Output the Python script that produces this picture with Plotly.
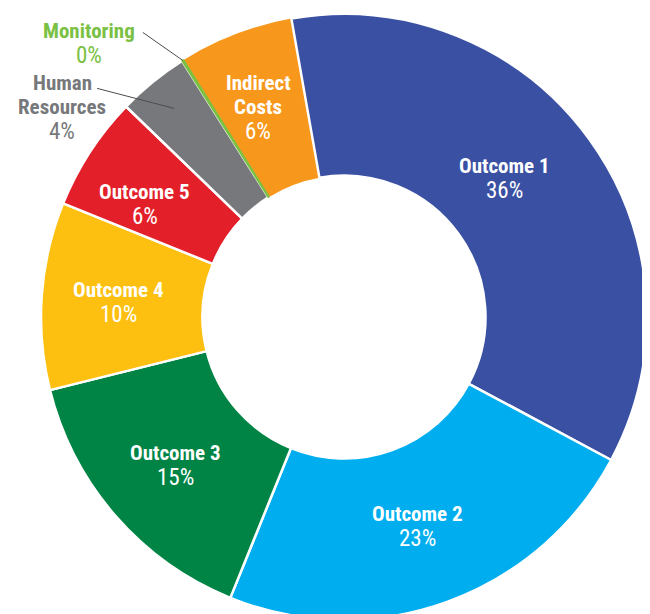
import math
import plotly.graph_objects as go

# ---------------- data ----------------
categories = ["Indirect Costs", "Outcome 1", "Outcome 2", "Outcome 3",
              "Outcome 4", "Outcome 5", "Human Resources", "Monitoring"]
values = [6.1, 35.6, 23.3, 15.0, 10.0, 6.1, 3.8, 0.1]
display_names = ["Indirect<br>Costs", "Outcome 1", "Outcome 2", "Outcome 3",
                 "Outcome 4", "Outcome 5", "Human<br>Resources", "Monitoring"]

# ---------------- style ----------------
slice_colors = ["#F7981D", "#3A50A3", "#00AEEF", "#008445",
                "#FDC010", "#E31F2A", "#77787B", "#7AC143"]
line_colors = ["white"] * 7 + ["#7AC143"]
line_widths = [0, 2.5, 2.5, 2.5, 2.5, 2.5, 2.5, 1.5]
outside = {"Human Resources": "#77787B", "Monitoring": "#7AC143"}

W, H = 650, 614
PAGE_OFFSET = 8                    # default body margin of the written page
CX, CY, R = 344 - PAGE_OFFSET, 317 - PAGE_OFFSET, 303   # pie centre / radius in figure px
HOLE = 0.467
FIRST_MAIN_START = -10             # where Outcome 1 begins (deg, clockwise from top)
FONT = "Liberation Sans Narrow, Roboto Condensed, Arial Narrow, Roboto, sans-serif"
NAME_SIZE, PCT_SIZE, LINE_GAP = 21, 23, 24.5

total = sum(values)
rotation = FIRST_MAIN_START - values[0] / total * 360

# per-label nudges (px, y down) and outside-label geometry
inside_shift = {"Indirect Costs": (-6, -2), "Outcome 1": (-19, -8), "Outcome 2": (-2, 0),
                "Outcome 3": (-1, 3), "Outcome 4": (-4, 1), "Outcome 5": (-13, 8)}
outside_geom = {  # anchor radius fraction, label offset, leader start offset
    "Monitoring": (1.0, (-94, -17), (-40, -28)),
    "Human Resources": (0.888, (-112, -1), (-77, -20)),
}


def px2paper(x, y):
    return x / W, 1 - y / H


fig = go.Figure(go.Pie(
    labels=categories, values=values, sort=False, direction="clockwise",
    rotation=rotation, hole=HOLE, textinfo="none", hoverinfo="skip",
    marker=dict(colors=slice_colors, line=dict(color=line_colors, width=line_widths)),
    domain=dict(x=[(CX - R) / W, (CX + R) / W], y=[1 - (CY + R) / H, 1 - (CY - R) / H]),
    showlegend=False,
))

annotations, shapes = [], []


def add_block(cx, cy, name, pct, color):
    lines = [(part, True) for part in name.split("<br>")] + [(pct, False)]
    n = len(lines)
    for i, (txt, bold) in enumerate(lines):
        ly = cy + (i - (n - 1) / 2) * LINE_GAP
        px_, py_ = px2paper(cx, ly)
        annotations.append(dict(
            x=px_, y=py_, xref="paper", yref="paper",
            text=f"<b>{txt}</b>" if bold else txt,
            showarrow=False, xanchor="center", yanchor="middle",
            font=dict(family=FONT, size=NAME_SIZE if bold else PCT_SIZE, color=color)))


cum = 0.0
r_mid = R * (1 + HOLE) / 2
for cat, name, v in zip(categories, display_names, values):
    mid = math.radians(rotation + (cum + v / 2) / total * 360)
    cum += v
    pct = f"{round(v / total * 100)}%"
    if cat in outside:
        frac, lab_off, start_off = outside_geom[cat]
        ax_ = CX + R * frac * math.sin(mid)
        ay_ = CY - R * frac * math.cos(mid)
        x0, y0 = px2paper(ax_ + start_off[0], ay_ + start_off[1])
        x1, y1 = px2paper(ax_, ay_)
        shapes.append(dict(type="line", xref="paper", yref="paper", x0=x0, y0=y0, x1=x1, y1=y1,
                           line=dict(color="#4D4D4D", width=1)))
        add_block(ax_ + lab_off[0], ay_ + lab_off[1], name, pct, outside[cat])
    else:
        dx, dy = inside_shift[cat]
        bx = CX + r_mid * math.sin(mid) + dx
        by = CY - r_mid * math.cos(mid) + dy
        add_block(bx, by, name, pct, "white")

fig.update_layout(
    width=W, height=H, margin=dict(l=0, r=0, t=0, b=0),
    paper_bgcolor="white", plot_bgcolor="white",
    annotations=annotations, shapes=shapes,
)

fig.write_html("out.html")
